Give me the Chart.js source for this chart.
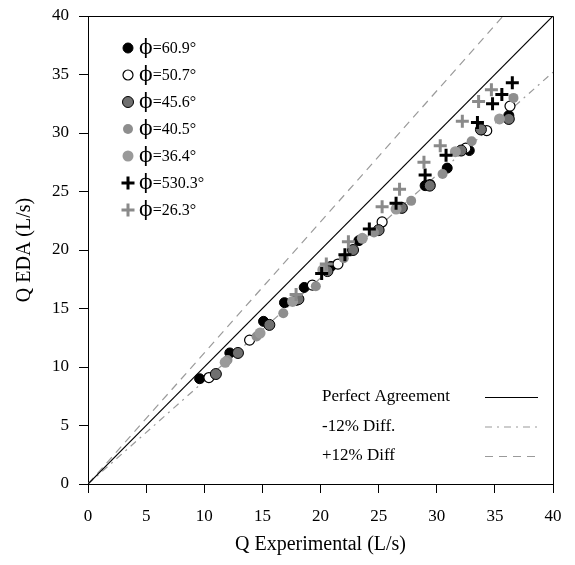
<!DOCTYPE html>
<html>
<head>
<meta charset="utf-8">
<script src="https://cdn.jsdelivr.net/npm/chart.js@4.4.0/dist/chart.umd.min.js"></script>
<style>
  html, body { margin: 0; padding: 0; background: #fff; }
  #wrap { width: 575px; height: 565px; }
</style>
</head>
<body>
<div id="wrap"><canvas id="edaChart" width="575" height="565"></canvas></div>
<script>
// measured vs. predicted discharge, one pair of arrays per angle
const labels = ['ϕ=60.9°', 'ϕ=50.7°', 'ϕ=45.6°', 'ϕ=40.5°', 'ϕ=36.4°', 'ϕ=530.3°', 'ϕ=26.3°'];

const qExp609 = [9.6, 12.2, 15.1, 16.9, 18.6, 20.9, 23.3, 26.6, 29.0, 30.9, 32.8, 36.2];
const qEda609 = [9.0, 11.2, 13.9, 15.5, 16.8, 18.6, 20.8, 23.6, 25.5, 27.0, 28.5, 31.5];

const qExp507 = [10.4, 13.9, 17.9, 19.3, 21.5, 25.3, 29.4, 32.5, 34.3, 36.3];
const qEda507 = [9.1, 12.3, 15.7, 17.0, 18.8, 22.4, 25.6, 28.7, 30.2, 32.3];

const qExp456 = [11.0, 12.9, 15.6, 18.1, 20.6, 22.8, 25.0, 27.0, 29.4, 32.1, 33.8, 36.2];
const qEda456 = [9.4, 11.2, 13.6, 15.8, 18.2, 20.0, 21.7, 23.6, 25.5, 28.5, 30.3, 31.2];

const qExp405 = [12.0, 14.5, 16.8, 19.6, 22.0, 24.6, 27.8, 30.5, 33.0, 36.6];
const qEda405 = [10.6, 12.6, 14.6, 16.9, 19.3, 21.5, 24.2, 26.5, 29.3, 33.0];

const qExp364 = [11.8, 14.8, 17.6, 20.2, 23.6, 26.5, 31.6, 35.4];
const qEda364 = [10.4, 12.9, 15.6, 18.3, 21.0, 23.5, 28.4, 31.2];

const qExp303 = [20.1, 22.1, 24.2, 26.5, 29.0, 30.8, 33.5, 34.8, 35.6, 36.5];
const qEda303 = [18.0, 19.6, 21.8, 24.0, 26.4, 28.1, 30.9, 32.5, 33.3, 34.3];

const qExp263 = [17.9, 20.5, 22.4, 25.3, 26.8, 28.9, 30.3, 32.2, 33.6, 34.7];
const qEda263 = [16.2, 18.8, 20.7, 23.7, 25.2, 27.5, 28.9, 31.0, 32.7, 33.7];

// reference lines: end points of y = x, y = 0.88x and y = 1.12x
const lineNames = ['Perfect Agreement', '-12% Diff.', '+12% Diff'];
const perfectX = [0, 40], perfectY = [0, 40];
const minus12X = [0, 40], minus12Y = [0, 35.2];
const plus12X = [0, 40], plus12Y = [0, 44.8];

const ticks = [0, 5, 10, 15, 20, 25, 30, 35, 40];

const pts = (xs, ys) => xs.map((x, i) => ({ x: x, y: ys[i] }));

const serif = '"Liberation Serif", "DejaVu Serif", serif';

const markerSets = [
  { x: qExp609, y: qEda609, style: 'circle', r: 5, bg: '#000', border: '#000', bw: 1 },
  { x: qExp507, y: qEda507, style: 'circle', r: 5, bg: '#fff', border: '#000', bw: 1.2 },
  { x: qExp456, y: qEda456, style: 'circle', r: 5.5, bg: '#707070', border: '#000', bw: 1 },
  { x: qExp405, y: qEda405, style: 'circle', r: 5, bg: '#8e8e8e', border: '#8e8e8e', bw: 0 },
  { x: qExp364, y: qEda364, style: 'circle', r: 5.5, bg: '#9a9a9a', border: '#9a9a9a', bw: 0 },
  { x: qExp303, y: qEda303, style: 'cross', r: 6.5, bg: '#000', border: '#000', bw: 3 },
  { x: qExp263, y: qEda263, style: 'cross', r: 6.5, bg: '#8a8a8a', border: '#8a8a8a', bw: 3 }
];

const refLines = [
  { x: perfectX, y: perfectY, color: '#000', dash: [] },
  { x: minus12X, y: minus12Y, color: '#9a9a9a', dash: [7, 5, 2, 5] },
  { x: plus12X, y: plus12Y, color: '#9a9a9a', dash: [8, 6] }
];

const datasets = [];
refLines.forEach((l, i) => {
  datasets.push({
    type: 'line', label: lineNames[i], data: pts(l.x, l.y),
    borderColor: l.color, borderWidth: 1.2, borderDash: l.dash,
    pointRadius: 0, fill: false, order: 10
  });
});
markerSets.forEach((m, i) => {
  datasets.push({
    type: 'scatter', label: labels[i], data: pts(m.x, m.y),
    pointStyle: m.style, pointRadius: m.r, pointHoverRadius: m.r,
    backgroundColor: m.bg, borderColor: m.border, borderWidth: m.bw,
    order: 7 - i
  });
});

function drawMarker(ctx, m, x, y) {
  ctx.save();
  if (m.style === 'cross') {
    ctx.strokeStyle = m.border;
    ctx.lineWidth = m.bw;
    ctx.beginPath();
    ctx.moveTo(x - m.r, y); ctx.lineTo(x + m.r, y);
    ctx.moveTo(x, y - m.r); ctx.lineTo(x, y + m.r);
    ctx.stroke();
  } else {
    ctx.beginPath();
    ctx.arc(x, y, m.r, 0, Math.PI * 2);
    ctx.fillStyle = m.bg;
    ctx.fill();
    if (m.bw > 0) {
      ctx.strokeStyle = m.border;
      ctx.lineWidth = m.bw;
      ctx.stroke();
    }
  }
  ctx.restore();
}

// frame around the plot plus the two hand-placed legends
const framePlugin = {
  id: 'framePlugin',
  afterDraw(chart) {
    const { ctx, chartArea: a } = chart;
    ctx.save();
    ctx.strokeStyle = '#000';
    ctx.lineWidth = 1;
    ctx.beginPath();
    ctx.moveTo(a.left, a.top + 0.5);
    ctx.lineTo(a.right + 0.5, a.top + 0.5);
    ctx.lineTo(a.right + 0.5, a.bottom);
    ctx.stroke();

    ctx.fillStyle = '#000';
    ctx.textBaseline = 'middle';
    ctx.textAlign = 'left';
    markerSets.forEach((m, i) => {
      const y = a.top + 32 + i * 27;
      drawMarker(ctx, m, a.left + 40, y);
      // the phi is set a size up so its stem stands out like the rest of the figure
      const phi = labels[i].charAt(0);
      const rest = labels[i].slice(1);
      ctx.font = '20px "DejaVu Serif", serif';
      ctx.fillText(phi, a.left + 51, y + 1);
      const w = ctx.measureText(phi).width;
      ctx.font = '16px ' + serif;
      ctx.fillText(rest, a.left + 51 + w, y + 1);
    });

    ctx.font = '17px ' + serif;
    refLines.forEach((l, i) => {
      const y = a.top + 381 + i * 29.5;
      ctx.fillStyle = '#000';
      ctx.fillText(lineNames[i], a.left + 234, y);
      ctx.save();
      ctx.strokeStyle = l.color;
      ctx.lineWidth = 1.2;
      ctx.setLineDash(l.dash);
      ctx.beginPath();
      ctx.moveTo(a.left + 397, y + 0.5);
      ctx.lineTo(a.left + 450, y + 0.5);
      ctx.stroke();
      ctx.restore();
    });
    ctx.restore();
  }
};

const axisFont = { family: serif, size: 17 };

new Chart(document.getElementById('edaChart'), {
  data: { datasets: datasets },
  options: {
    responsive: false,
    animation: false,
    layout: { padding: { top: 16, right: 22, left: 0, bottom: 0 } },
    plugins: { legend: { display: false }, tooltip: { enabled: false } },
    scales: {
      x: {
        type: 'linear', min: 0, max: 40,
        afterBuildTicks: s => { s.ticks = ticks.map(v => ({ value: v })); },
        ticks: { color: '#000', font: axisFont, padding: 13, maxRotation: 0 },
        grid: { drawOnChartArea: false, drawTicks: true, tickLength: 9, color: '#000' },
        border: { color: '#000', width: 1 },
        title: { display: true, text: 'Q Experimental (L/s)', color: '#000',
                 font: { family: serif, size: 20 }, padding: { bottom: 8 } },
        afterFit: s => { s.height = 81; s.paddingLeft = 0; s.paddingRight = 0; }
      },
      y: {
        type: 'linear', min: 0, max: 40,
        afterBuildTicks: s => { s.ticks = ticks.map(v => ({ value: v })); },
        ticks: { color: '#000', font: axisFont, padding: 10 },
        grid: { drawOnChartArea: false, drawTicks: true, tickLength: 9, color: '#000' },
        border: { color: '#000', width: 1 },
        title: { display: true, text: 'Q EDA (L/s)', color: '#000',
                 font: { family: serif, size: 20 }, padding: { top: 13 } },
        afterFit: s => { s.width = 88; s.paddingTop = 0; s.paddingBottom = 0; }
      }
    }
  },
  plugins: [framePlugin]
});
</script>
</body>
</html>
